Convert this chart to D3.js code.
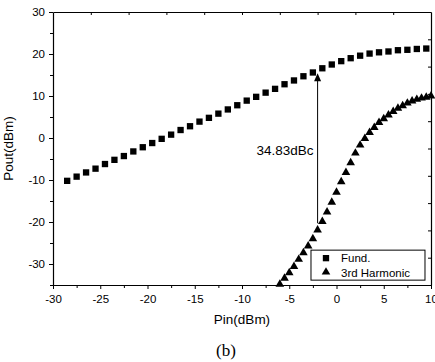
<!DOCTYPE html>
<html>
<head>
<meta charset="utf-8">
<script src="https://cdn.jsdelivr.net/npm/d3@7"></script>
<style>
  body { margin: 0; background: #fff; }
  text { font-family: "Liberation Sans", Arial, sans-serif; fill: #000; }
</style>
</head>
<body>
<div id="chart"></div>
<script>

// Fundamental output (squares)
var fundPin = [-28.5, -27.5, -26.5, -25.5, -24.5, -23.5, -22.5, -21.5, -20.5, -19.5,
  -18.5, -17.5, -16.5, -15.5, -14.5, -13.5, -12.5, -11.5, -10.5, -9.5,
  -8.5, -7.5, -6.5, -5.5, -4.5, -3.5, -2.5, -1.5, -0.5, 0.5,
  1.5, 2.5, 3.5, 4.5, 5.5, 6.5, 7.5, 8.5, 9.5];
var fundPout = [-10.2, -9.2, -8.2, -7.3, -6.2, -5.2, -4.3, -3.2, -2.2, -1.2,
  -0.2, 0.8, 1.9, 2.8, 3.9, 4.8, 5.8, 6.8, 7.8, 8.9,
  9.8, 10.8, 11.7, 12.8, 13.7, 14.7, 15.6, 16.6, 17.5, 18.3,
  19.0, 19.6, 20.1, 20.4, 20.6, 20.9, 21.0, 21.2, 21.3];

// 3rd harmonic output (triangles)
var harmPin = [-6.0, -5.5, -5.0, -4.5, -4.0, -3.5, -3.0, -2.5, -2.0, -1.5,
  -1.0, -0.5, 0.0, 0.5, 1.0, 1.5, 2.0, 2.5, 3.0, 3.5,
  4.0, 4.5, 5.0, 5.5, 6.0, 6.5, 7.0, 7.5, 8.0, 8.5,
  9.0, 9.5, 10.0];
var harmPout = [-34.8, -33.4, -32.1, -30.6, -28.9, -27.3, -25.7, -24.0, -21.9, -19.9,
  -17.6, -15.3, -12.9, -10.4, -8.2, -5.9, -3.6, -1.7, -0.1, 1.3,
  2.5, 3.7, 4.6, 5.5, 6.3, 7.1, 7.7, 8.3, 8.8, 9.2,
  9.5, 9.7, 10.0];

var xTicks = [-30, -25, -20, -15, -10, -5, 0, 5, 10];
var yTicks = [-30, -20, -10, 0, 10, 20, 30];
var legendLabels = ["Fund.", "3rd Harmonic"];

// annotation: arrow between fund and 3rd harmonic
var arrowPin = -2;
var arrowFrom = -20.3;
var arrowTo = 15.4;
var arrowLabel = "34.83dBc";

var svgWidth = 435;
var svgHeight = 362;

var margin = { top: 12, right: 4, bottom: 77, left: 53 };
var width = svgWidth - margin.left - margin.right;
var height = svgHeight - margin.top - margin.bottom;

var svg = d3.select("#chart")
  .append("svg")
  .attr("width", svgWidth)
  .attr("height", svgHeight);

var chartGroup = svg.append("g")
  .attr("transform", `translate(${margin.left}, ${margin.top})`);

var xScale = d3.scaleLinear().domain([-30, 10]).range([0, width]);
var yScale = d3.scaleLinear().domain([-35, 30]).range([height, 0]);

// plain hyphen minus like the original
var fmt = d => String(d);

// bottom axis: major + minor ticks outward
var xMinor = d3.range(-27.5, 10, 5);
chartGroup.append("g")
  .attr("transform", `translate(0, ${height})`)
  .call(d3.axisBottom(xScale).tickValues(xMinor).tickSize(3).tickFormat(""))
  .call(g => g.select(".domain").remove());
var xAxisG = chartGroup.append("g")
  .attr("transform", `translate(0, ${height})`)
  .call(d3.axisBottom(xScale).tickValues(xTicks).tickSize(4).tickPadding(6).tickSizeOuter(0).tickFormat(fmt));
xAxisG.selectAll("text").attr("font-size", "11.5px").attr("font-family", "Liberation Sans, Arial");

// left axis
var yMinor = d3.range(-35, 30, 10);
chartGroup.append("g")
  .call(d3.axisLeft(yScale).tickValues(yMinor).tickSize(3).tickFormat(""))
  .call(g => g.select(".domain").remove());
var yAxisG = chartGroup.append("g")
  .call(d3.axisLeft(yScale).tickValues(yTicks).tickSize(4).tickPadding(4).tickSizeOuter(0).tickFormat(fmt));
yAxisG.selectAll("text").attr("font-size", "11.5px").attr("font-family", "Liberation Sans, Arial");

// top and right axes: inward ticks, no labels
chartGroup.append("g")
  .call(d3.axisBottom(xScale).tickValues(d3.range(-26, 10, 4)).tickSize(3).tickFormat("").tickSizeOuter(0));
chartGroup.append("g")
  .attr("transform", `translate(${width}, 0)`)
  .call(d3.axisLeft(yScale).tickValues(d3.range(-28.5, 30, 6.5)).tickSize(3).tickFormat("").tickSizeOuter(0));

svg.selectAll(".domain").attr("stroke", "#000").attr("stroke-width", 1.2);
svg.selectAll(".tick line").attr("stroke", "#000");

// axis titles
chartGroup.append("text")
  .attr("x", width / 2)
  .attr("y", height + 39)
  .attr("text-anchor", "middle")
  .attr("font-size", "13.5px")
  .text("Pin(dBm)");

chartGroup.append("text")
  .attr("transform", "rotate(-90)")
  .attr("x", -height / 2)
  .attr("y", -40)
  .attr("text-anchor", "middle")
  .attr("font-size", "13.5px")
  .text("Pout(dBm)");

svg.append("text")
  .attr("x", 226)
  .attr("y", 356)
  .attr("text-anchor", "middle")
  .attr("font-size", "17px")
  .style("font-family", "Liberation Serif, Times New Roman, serif")
  .text("(b)");

// markers
var square = d3.symbol().type(d3.symbolSquare).size(40);
var triangle = d3.symbol().type(d3.symbolTriangle).size(32);

chartGroup.selectAll(".fund")
  .data(fundPin)
  .enter()
  .append("path")
  .attr("class", "fund")
  .attr("d", square)
  .attr("transform", (d, i) => `translate(${xScale(d)}, ${yScale(fundPout[i])})`)
  .attr("fill", "#000");

chartGroup.selectAll(".harm")
  .data(harmPin)
  .enter()
  .append("path")
  .attr("class", "harm")
  .attr("d", triangle)
  .attr("transform", (d, i) => `translate(${xScale(d)}, ${yScale(harmPout[i])})`)
  .attr("fill", "#000");

// arrow annotation
var ax = xScale(arrowPin);
chartGroup.append("line")
  .attr("x1", ax).attr("x2", ax)
  .attr("y1", yScale(arrowFrom))
  .attr("y2", yScale(arrowTo) + 6)
  .attr("stroke", "#000")
  .attr("stroke-width", 1);
chartGroup.append("path")
  .attr("d", `M${ax},${yScale(arrowTo)} L${ax - 3.5},${yScale(arrowTo) + 8} L${ax + 3.5},${yScale(arrowTo) + 8} Z`)
  .attr("fill", "#000");
chartGroup.append("text")
  .attr("x", ax - 4)
  .attr("y", 143)
  .attr("text-anchor", "end")
  .attr("font-size", "13.5px")
  .text(arrowLabel);

// legend
var legend = chartGroup.append("g")
  .attr("transform", `translate(${xScale(-2.7)}, ${yScale(-26.7)})`);
legend.append("rect")
  .attr("width", 114)
  .attr("height", 30)
  .attr("fill", "#fff")
  .attr("stroke", "#000")
  .attr("stroke-width", 1);
legend.append("path")
  .attr("d", square)
  .attr("transform", "translate(15, 8)")
  .attr("fill", "#000");
legend.append("path")
  .attr("d", triangle)
  .attr("transform", "translate(15, 22)")
  .attr("fill", "#000");
legend.selectAll(".lbl")
  .data(legendLabels)
  .enter()
  .append("text")
  .attr("x", 30)
  .attr("y", (d, i) => 12 + i * 14.5)
  .attr("font-size", "11.5px")
  .text(d => d);

</script>
</body>
</html>
